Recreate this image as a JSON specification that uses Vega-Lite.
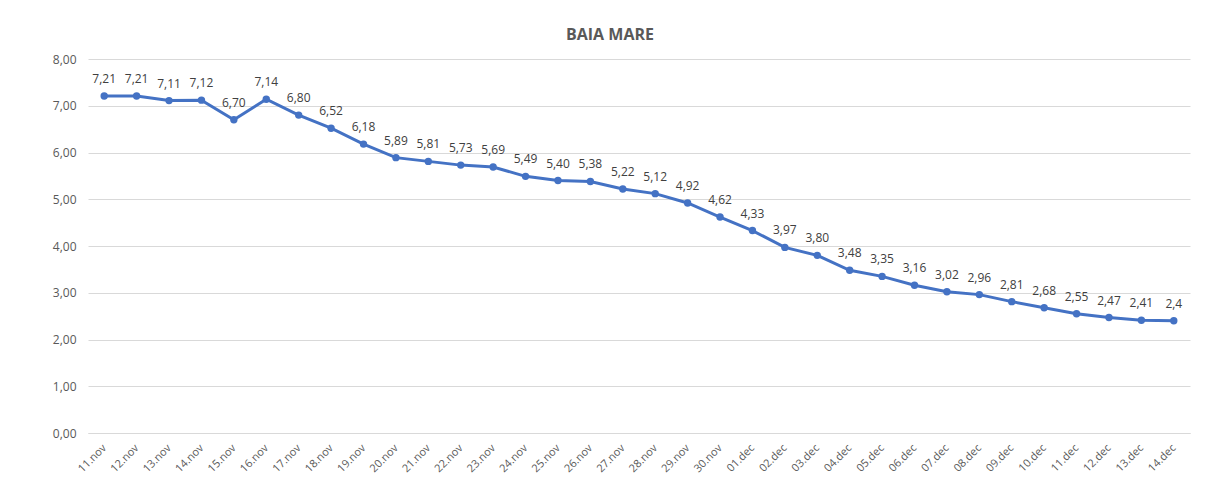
{
  "$schema": "https://vega.github.io/schema/vega-lite/v6.json",
  "autosize": {"type": "none"},
  "padding": {"left": 88, "top": 59, "right": 25, "bottom": 70},
  "width": 1102,
  "height": 374,
  "background": "white",
  "config": {
    "locale": {"number": {"decimal": ",", "thousands": ".", "grouping": [3], "currency": ["", ""]}},
    "font": "Open Sans",
    "view": {"stroke": null}
  },
  "title": {
    "text": "BAIA MARE",
    "font": "Open Sans",
    "fontSize": 16,
    "fontWeight": "bold",
    "color": "#595959",
    "anchor": "middle",
    "dx": -29,
    "offset": 10
  },
  "data": {
    "values": [
      {"d": "11.nov", "v": 7.21, "label": "7,21"},
      {"d": "12.nov", "v": 7.21, "label": "7,21"},
      {"d": "13.nov", "v": 7.11, "label": "7,11"},
      {"d": "14.nov", "v": 7.12, "label": "7,12"},
      {"d": "15.nov", "v": 6.70, "label": "6,70"},
      {"d": "16.nov", "v": 7.14, "label": "7,14"},
      {"d": "17.nov", "v": 6.80, "label": "6,80"},
      {"d": "18.nov", "v": 6.52, "label": "6,52"},
      {"d": "19.nov", "v": 6.18, "label": "6,18"},
      {"d": "20.nov", "v": 5.89, "label": "5,89"},
      {"d": "21.nov", "v": 5.81, "label": "5,81"},
      {"d": "22.nov", "v": 5.73, "label": "5,73"},
      {"d": "23.nov", "v": 5.69, "label": "5,69"},
      {"d": "24.nov", "v": 5.49, "label": "5,49"},
      {"d": "25.nov", "v": 5.40, "label": "5,40"},
      {"d": "26.nov", "v": 5.38, "label": "5,38"},
      {"d": "27.nov", "v": 5.22, "label": "5,22"},
      {"d": "28.nov", "v": 5.12, "label": "5,12"},
      {"d": "29.nov", "v": 4.92, "label": "4,92"},
      {"d": "30.nov", "v": 4.62, "label": "4,62"},
      {"d": "01.dec", "v": 4.33, "label": "4,33"},
      {"d": "02.dec", "v": 3.97, "label": "3,97"},
      {"d": "03.dec", "v": 3.80, "label": "3,80"},
      {"d": "04.dec", "v": 3.48, "label": "3,48"},
      {"d": "05.dec", "v": 3.35, "label": "3,35"},
      {"d": "06.dec", "v": 3.16, "label": "3,16"},
      {"d": "07.dec", "v": 3.02, "label": "3,02"},
      {"d": "08.dec", "v": 2.96, "label": "2,96"},
      {"d": "09.dec", "v": 2.81, "label": "2,81"},
      {"d": "10.dec", "v": 2.68, "label": "2,68"},
      {"d": "11.dec", "v": 2.55, "label": "2,55"},
      {"d": "12.dec", "v": 2.47, "label": "2,47"},
      {"d": "13.dec", "v": 2.41, "label": "2,41"},
      {"d": "14.dec", "v": 2.4, "label": "2,4"}
    ]
  },
  "encoding": {
    "x": {
      "field": "d",
      "type": "ordinal",
      "sort": null,
      "scale": {"type": "point", "padding": 0.5},
      "axis": {
        "title": null,
        "labelAngle": -45,
        "labelAlign": "right",
        "labelBaseline": "middle",
        "labelPadding": 13,
        "labelFontSize": 11,
        "labelColor": "#595959",
        "ticks": false,
        "domain": true,
        "domainColor": "#D9D9D9",
        "grid": false
      }
    },
    "y": {
      "field": "v",
      "type": "quantitative",
      "scale": {"domain": [0, 8], "nice": false, "zero": true},
      "axis": {
        "title": null,
        "values": [0, 1, 2, 3, 4, 5, 6, 7, 8],
        "format": ".2f",
        "labelFontSize": 12,
        "labelColor": "#595959",
        "labelPadding": 12,
        "ticks": false,
        "domain": false,
        "grid": true,
        "gridColor": "#D9D9D9",
        "gridWidth": 1
      }
    }
  },
  "layer": [
    {"mark": {"type": "line", "color": "#4472C4", "strokeWidth": 3}},
    {"mark": {"type": "point", "filled": true, "color": "#4472C4", "size": 55, "opacity": 1}},
    {
      "mark": {"type": "text", "dy": -17, "fontSize": 12, "color": "#404040", "baseline": "middle"},
      "encoding": {"text": {"field": "label"}}
    }
  ]
}
